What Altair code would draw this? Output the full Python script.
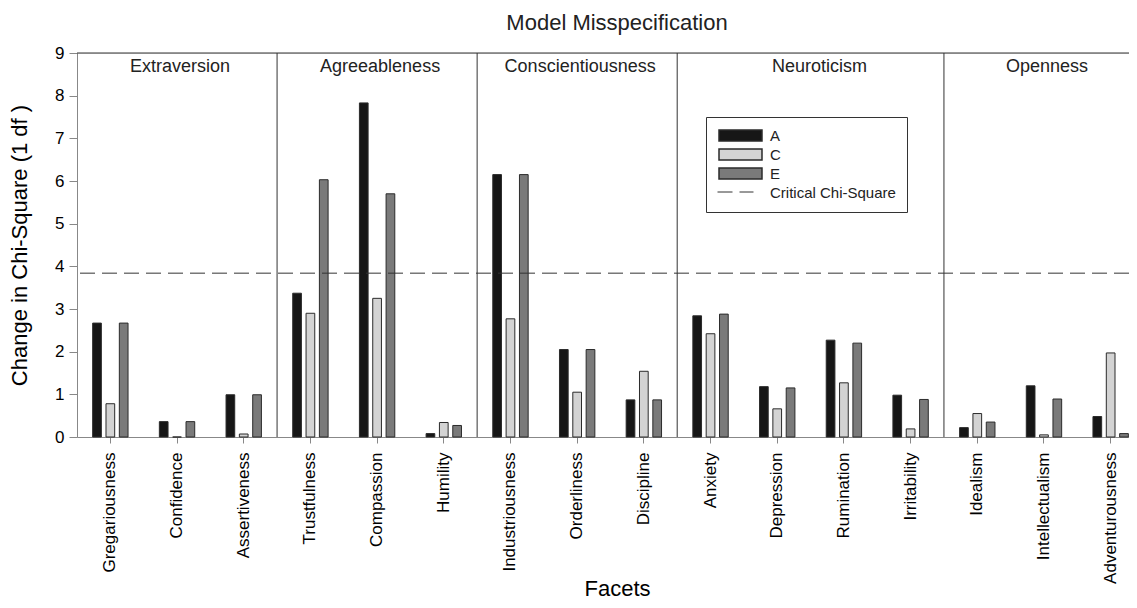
import altair as alt
import pandas as pd

FACETS = ["Gregariousness", "Confidence", "Assertiveness",
          "Trustfulness", "Compassion", "Humility",
          "Industriousness", "Orderliness", "Discipline",
          "Anxiety", "Depression", "Rumination", "Irritability",
          "Idealism", "Intellectualism", "Adventurousness"]
GROUPS = ["Extraversion", "Agreeableness", "Conscientiousness", "Neuroticism", "Openness"]
GROUP_SIZES = [3, 3, 3, 4, 3]
MODELS = ["A", "C", "E"]
A_VALUES = [2.67, 0.36, 0.99, 3.37, 7.83, 0.08, 6.15, 2.05, 0.87, 2.84, 1.18, 2.27, 0.98, 0.22, 1.20, 0.48]
C_VALUES = [0.78, 0.00, 0.07, 2.90, 3.25, 0.34, 2.77, 1.05, 1.54, 2.42, 0.66, 1.27, 0.19, 0.55, 0.05, 1.97]
E_VALUES = [2.67, 0.36, 0.99, 6.03, 5.70, 0.27, 6.15, 2.05, 0.87, 2.88, 1.15, 2.20, 0.88, 0.35, 0.89, 0.08]
CRITICAL = 3.84
LEGEND_LINE = "Critical Chi-Square"
Y_TICKS = list(range(10))

FONT = "Liberation Sans"
INK = "#222222"
EDGE = "#2b2b2b"
LINE_C = "#333333"

# ---- tables built from the arrays ----
rows = []
for model, vals in zip(MODELS, [A_VALUES, C_VALUES, E_VALUES]):
    for f, v in zip(FACETS, vals):
        rows.append({"Facet": f, "Model": model, "Value": v})
bars_df = pd.DataFrame(rows)

starts = []
i = 0
for n in GROUP_SIZES:
    starts.append(i)
    i += n
sep_df = pd.DataFrame({"Facet": [FACETS[s] for s in starts[1:]]})

odd_rows, even_rows = [], []
for g, s, n in zip(GROUPS, starts, GROUP_SIZES):
    rec = {"Facet": FACETS[s + n // 2] if n % 2 else FACETS[s + n // 2 - 1], "Group": g}
    (odd_rows if n % 2 else even_rows).append(rec)
odd_df = pd.DataFrame(odd_rows)
even_df = pd.DataFrame(even_rows)

crit_df = pd.DataFrame({"Value": [CRITICAL], "Label": [LEGEND_LINE]})
top_df = pd.DataFrame({"Value": [Y_TICKS[-1]]})

xscale = alt.Scale(domain=FACETS, range=[0, 1067], paddingInner=0, paddingOuter=0)
DOMAIN4 = MODELS + [LEGEND_LINE]

RECT = "M-3.909,-1H3.909V1H-3.909Z"
main_legend = alt.Legend(
    orient="none", legendX=629, legendY=64, title=None,
    symbolType=RECT, symbolSize=121, symbolOffset=16,
    labelFontSize=15, labelOffset=22, rowPadding=2, padding=11,
    strokeColor=LINE_C, fillColor="white", labelFont=FONT, labelColor=INK,
)

bars = alt.Chart(bars_df).mark_bar(strokeWidth=1, width=8.7).encode(
    x=alt.X("Facet:N", scale=xscale, sort=FACETS, title="Facets",
            axis=alt.Axis(labelAngle=-90, tickSize=6, labelPadding=9, labelFontSize=17,
                          titleFontSize=22, titleFontWeight="normal", titleX=540, titleY=158,
                          titleBaseline="alphabetic", grid=False)),
    xOffset=alt.XOffset("Model:N", sort=MODELS,
                        scale=alt.Scale(paddingInner=0, paddingOuter=1)),
    y=alt.Y("Value:Q", scale=alt.Scale(domain=[0, 9], nice=False),
            title="Change in Chi-Square (1 df )",
            axis=alt.Axis(values=Y_TICKS, grid=False, tickSize=8, labelPadding=5,
                          labelFontSize=17, titleFontSize=22, titleFontWeight="normal",
                          titlePadding=23)),
    color=alt.Color("Model:N",
                    scale=alt.Scale(domain=DOMAIN4,
                                    range=["#161616", "#d3d3d3", "#7a7a7a", "transparent"]),
                    legend=main_legend),
    stroke=alt.Stroke("Model:N",
                      scale=alt.Scale(domain=DOMAIN4, range=[EDGE, EDGE, EDGE, "transparent"]),
                      legend=main_legend),
)

crit = alt.Chart(crit_df).mark_rule(color=LINE_C, strokeWidth=1).encode(
    y=alt.Y("Value:Q"),
    strokeDash=alt.StrokeDash(
        "Label:N",
        scale=alt.Scale(domain=[LEGEND_LINE], range=[[15, 7]]),
        legend=alt.Legend(orient="none", legendX=640, legendY=133, title=None,
                          labelExpr="''", symbolType="M-3.27,0H3.27", symbolSize=121,
                          symbolOffset=12.5, symbolStrokeColor=LINE_C, symbolStrokeWidth=1,
                          padding=0),
    ),
)

top = alt.Chart(top_df).mark_rule(color=LINE_C, strokeWidth=1).encode(y=alt.Y("Value:Q"))

seps = alt.Chart(sep_df).mark_rule(color=LINE_C, strokeWidth=1).encode(
    x=alt.X("Facet:N", scale=xscale, sort=FACETS, bandPosition=0)
)

lab_odd = alt.Chart(odd_df).mark_text(fontSize=18, font=FONT, color=INK, baseline="middle", dx=3).encode(
    x=alt.X("Facet:N", scale=xscale, sort=FACETS, bandPosition=0.5),
    y=alt.value(14),
    text="Group:N",
)
lab_even = alt.Chart(even_df).mark_text(fontSize=18, font=FONT, color=INK, baseline="middle", dx=9).encode(
    x=alt.X("Facet:N", scale=xscale, sort=FACETS, bandPosition=1.0),
    y=alt.value(14),
    text="Group:N",
)

chart = alt.layer(bars, crit, top, seps, lab_odd, lab_even).properties(
    width=1052, height=384,
    autosize=alt.AutoSizeParams(type="none"),
    padding={"left": 69, "top": 45, "right": 0, "bottom": 163},
    title=alt.Title("Model Misspecification", fontSize=22, fontWeight="normal",
                    font=FONT, color=INK, offset=9, dx=14),
).configure_view(
    strokeWidth=0
).configure_axis(
    labelFont=FONT, titleFont=FONT, labelColor=INK, titleColor=INK,
    titleFontWeight="normal", domainColor=LINE_C, tickColor=LINE_C,
).configure_legend(
    labelFont=FONT, labelColor=INK,
).configure(background="white")

chart.save("out.html", embed_options={"renderer": "svg", "actions": False})
